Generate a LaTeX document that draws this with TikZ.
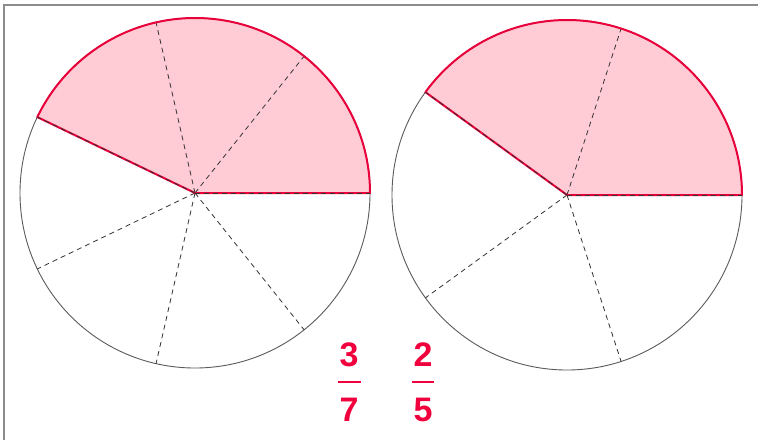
\documentclass[tikz,border=0pt]{standalone}
\usepackage{fontspec}
\setmainfont{Liberation Sans}
\definecolor{pinkfill}{RGB}{255,204,213}
\definecolor{redline}{RGB}{232,0,58}
\definecolor{fracred}{RGB}{240,0,60}
\definecolor{rim}{RGB}{90,90,90}
\definecolor{frame}{RGB}{140,140,140}
\begin{document}
\begin{tikzpicture}[x=1pt,y=-1pt,
  rimline/.style={draw=rim,line width=0.9pt},
  rededge/.style={draw=redline,line width=2pt,line join=round},
  divider/.style={draw=black!80,line width=0.8pt,dash pattern=on 5pt off 4pt},
  digit/.style={text=fracred,font=\fontsize{34}{34}\selectfont\bfseries,inner sep=0pt},
  fracbar/.style={draw=fracred,line width=2pt}]
\useasboundingbox (0,0) rectangle (758,440);
\fill[white] (0,0) rectangle (758,440);
\draw[frame,line width=2pt] (4,440) -- (4,5) -- (758,5);
% left circle: 7 parts, 3 shaded (angles negated because y points down)
\coordinate (cL) at (195,193);
\fill[pinkfill] (cL) -- ++(0:175) arc[start angle=0,end angle=-154.29,radius=175] -- cycle;
\draw[rimline] (cL) circle[radius=175];
\foreach \a in {51.43,102.86,205.71,257.14,308.57}
  \draw[divider] (cL) -- ++(-\a:175);
\draw[rededge] (cL) -- ++(0:175) arc[start angle=0,end angle=-154.29,radius=175] -- cycle;
\draw[divider] (cL) -- ++(0:175);
\draw[divider] (cL) -- ++(-154.29:175);
% right circle: 5 parts, 2 shaded
\coordinate (cR) at (567,195);
\fill[pinkfill] (cR) -- ++(0:175) arc[start angle=0,end angle=-144,radius=175] -- cycle;
\draw[rimline] (cR) circle[radius=175];
\foreach \a in {72,216,288}
  \draw[divider] (cR) -- ++(-\a:175);
\draw[rededge] (cR) -- ++(0:175) arc[start angle=0,end angle=-144,radius=175] -- cycle;
\draw[divider] (cR) -- ++(0:175);
\draw[divider] (cR) -- ++(-144:175);
% fractions
\node[digit] (n1) at (349,355) {3};
\draw[fracbar] (338,382) -- (361,382);
\node[digit] (d1) at (349,410) {7};
\node[digit] (n2) at (423,355) {2};
\draw[fracbar] (412,382) -- (434,382);
\node[digit] (d2) at (423,410) {5};
\end{tikzpicture}
\end{document}
